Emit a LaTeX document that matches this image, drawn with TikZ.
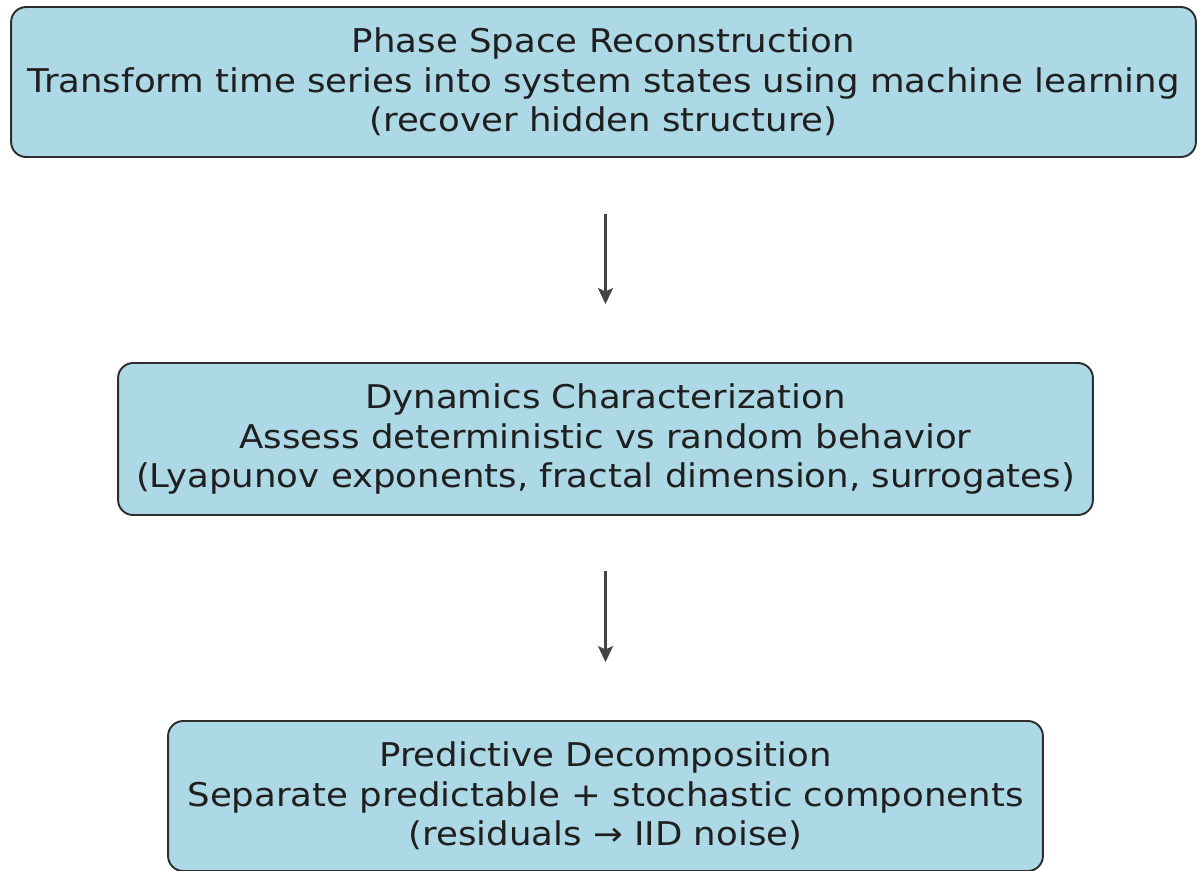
\documentclass[tikz,border=0pt]{standalone}
\usepackage{fontspec}
\setmainfont{DejaVu Sans}[FakeStretch=1.088]
\usetikzlibrary{arrows.meta}

\definecolor{boxfill}{HTML}{ADD8E6}
\definecolor{boxline}{HTML}{2E2E2E}

\begin{document}
\begin{tikzpicture}[x=0.02cm, y=-0.02cm, ->, >={Stealth[length=0.32cm, width=0.3cm, inset=0.07cm]},
    stage/.style={draw=boxline, fill=boxfill, line width=1.1pt, rounded corners=0.3cm,
        align=center, inner sep=0pt, text=black!88,
        font=\fontsize{18.6}{22.6}\selectfont},
    flow/.style={draw=boxline!90, line width=1.6pt, shorten <=1.12cm, shorten >=1.16cm}]

    \useasboundingbox (0,0) rectangle (1197,870);

    \node[stage, minimum width=23.7cm, minimum height=3cm] (phase) at (603.5,82)
        {Phase Space Reconstruction\\Transform time series into system states using machine learning\\(recover hidden structure)};
    \node[stage, minimum width=19.5cm, minimum height=3.04cm] (dyn) at (605.5,439)
        {Dynamics Characterization\\Assess deterministic vs random behavior\\(Lyapunov exponents, fractal dimension, surrogates)};
    \node[stage, minimum width=17.5cm, minimum height=3cm] (pred) at (605.5,796)
        {Predictive Decomposition\\Separate predictable + stochastic components\\(residuals → IID noise)};

    \path
    (phase.south -| dyn.north) edge[flow] (dyn.north)
    (dyn.south) edge[flow, shorten <=1.1cm] (pred.north);
\end{tikzpicture}
\end{document}
